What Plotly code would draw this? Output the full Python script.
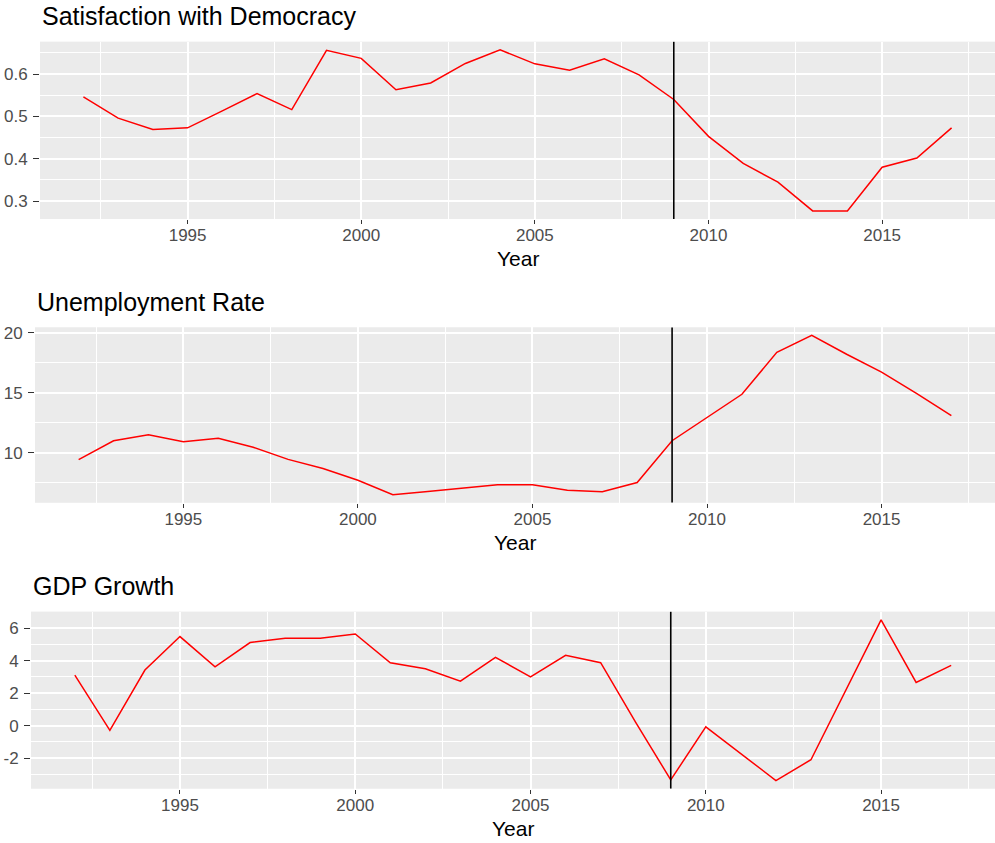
import plotly.graph_objects as go

# Annual series, 1992-2017
years = list(range(1992, 2018))

satisfaction = [0.546, 0.496, 0.469, 0.473, 0.513, 0.554, 0.516, 0.656, 0.637, 0.563,
                0.579, 0.625, 0.657, 0.624, 0.609, 0.636, 0.598, 0.540, 0.453, 0.389,
                0.345, 0.277, 0.277, 0.380, 0.402, 0.473]

unemployment = [9.43, 11.0, 11.5, 10.92, 11.2, 10.46, 9.45, 8.69, 7.71, 6.51,
                6.78, 7.06, 7.33, 7.33, 6.87, 6.76, 7.52, 11.0, 12.9, 14.87,
                18.36, 19.77, 18.2, 16.72, 14.95, 13.1]

gdp_growth = [3.11, -0.29, 3.42, 5.48, 3.62, 5.11, 5.38, 5.38, 5.64, 3.87,
              3.5, 2.74, 4.2, 3.0, 4.33, 3.87, 0.2, -3.34, -0.08, -1.73,
              -3.38, -2.1, 2.2, 6.51, 2.66, 3.71]

crisis_year = 2009

panel_titles = ["Satisfaction with Democracy", "Unemployment Rate", "GDP Growth"]
x_tick_vals = [1995, 2000, 2005, 2010, 2015]
x_tick_text = ["1995", "2000", "2005", "2010", "2015"]

y_tick_vals = [[0.3, 0.4, 0.5, 0.6], [10, 15, 20], [-2, 0, 2, 4, 6]]
y_tick_text = [["0.3", "0.4", "0.5", "0.6"], ["10", "15", "20"], ["-2", "0", "2", "4", "6"]]
y_minor_step = [0.05, 2.5, 1.0]

series = [satisfaction, unemployment, gdp_growth]

W, H = 995, 843
FONT = "Arial, Liberation Sans, sans-serif"
PANEL_BG = "#EBEBEB"

# pixel layout of each panel: left, top, bottom
panels = [(40, 38, 216), (35, 325, 501), (31, 610.7, 788.3)]


def expanded(lo, hi, mult=0.05):
    span = hi - lo
    return [lo - mult * span, hi + mult * span]


fig = go.Figure()
layout = dict(
    width=W, height=H,
    margin=dict(l=0, r=0, t=0, b=0),
    paper_bgcolor="white", plot_bgcolor=PANEL_BG,
    showlegend=False,
    font=dict(family=FONT),
    annotations=[], shapes=[],
)

for i, (vals, title) in enumerate(zip(series, panel_titles)):
    n = i + 1
    xa = "x" if n == 1 else f"x{n}"
    ya = "y" if n == 1 else f"y{n}"
    left, top, bottom = panels[i]
    xdom = [left / W, 1.0]
    ydom = [1 - bottom / H, 1 - top / H]
    yr = expanded(min(vals), max(vals))
    xr = expanded(min(years), max(years))

    fig.add_trace(go.Scatter(
        x=years, y=vals, mode="lines",
        line=dict(color="#FF0000", width=1.5),
        xaxis=xa, yaxis=ya, hoverinfo="skip",
    ))

    # shaded panel background
    layout["shapes"].append(dict(
        type="rect", xref=f"{xa} domain", yref=f"{ya} domain",
        x0=0, x1=1, y0=0, y1=1, fillcolor=PANEL_BG, line=dict(width=0),
        layer="below",
    ))

    # vertical marker at the crisis year
    layout["shapes"].append(dict(
        type="line", xref=xa, yref=f"{ya} domain",
        x0=crisis_year, x1=crisis_year, y0=0, y1=1,
        line=dict(color="black", width=1.6), layer="above",
    ))

    layout[f"xaxis{'' if n == 1 else n}"] = dict(
        domain=xdom, range=xr, anchor=ya,
        tickmode="array", tickvals=x_tick_vals, ticktext=x_tick_text,
        showgrid=True, gridcolor="white", gridwidth=2,
        minor=dict(tickmode="linear", tick0=1992.5, dtick=5,
                   showgrid=True, gridcolor="white", gridwidth=1, ticklen=0),
        ticks="outside", ticklen=4, tickwidth=1, tickcolor="#333333",
        ticklabelstandoff=-3,
        tickfont=dict(family=FONT, size=17, color="#4D4D4D"),
        showline=False, zeroline=False, fixedrange=True,
    )
    layout[f"yaxis{'' if n == 1 else n}"] = dict(
        domain=ydom, range=yr, anchor=xa,
        tickmode="array", tickvals=y_tick_vals[i], ticktext=y_tick_text[i],
        showgrid=True, gridcolor="white", gridwidth=2,
        minor=dict(tickmode="linear", tick0=y_tick_vals[i][0] + y_minor_step[i],
                   dtick=2 * y_minor_step[i],
                   showgrid=True, gridcolor="white", gridwidth=1, ticklen=0),
        ticks="outside", ticklen=6, tickwidth=1, tickcolor="#333333",
        ticklabelstandoff=2,
        tickfont=dict(family=FONT, size=17, color="#4D4D4D"),
        showline=False, zeroline=False, fixedrange=True,
    )

    # panel title
    layout["annotations"].append(dict(
        text=title, xref="paper", yref="paper",
        x=left / W, y=1 - (top - 26) / H, xanchor="left", yanchor="middle",
        showarrow=False, font=dict(family=FONT, size=25, color="black"),
    ))
    # x-axis title
    layout["annotations"].append(dict(
        text="Year", xref="paper", yref="paper",
        x=(left + W) / 2 / W, y=1 - (bottom + 40) / H,
        xanchor="center", yanchor="middle",
        showarrow=False, font=dict(family=FONT, size=21, color="black"),
    ))

fig.update_layout(**layout)
fig.write_html("out.html")
